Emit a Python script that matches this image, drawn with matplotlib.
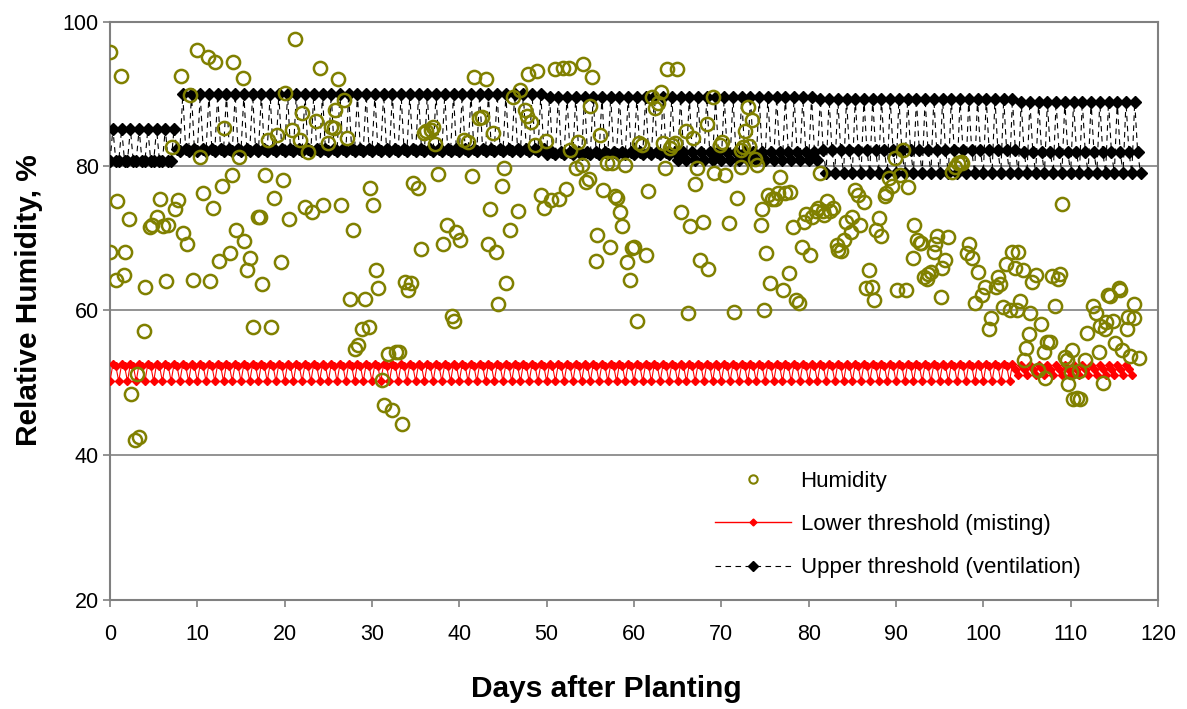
import numpy as np
import matplotlib.pyplot as plt
from matplotlib.lines import Line2D

plt.rcParams['font.family'] = ['Liberation Sans', 'DejaVu Sans']

# Humidity readings (day after planting, relative humidity %)
hum_day = [0.0, 0.0, 0.7, 0.8, 1.3, 1.6, 1.7, 2.2, 2.4, 2.9, 3.3, 3.1, 4.0, 3.9, 4.6, 4.8,
           5.4, 5.7, 6.1, 6.4, 6.6, 7.1, 7.4, 7.8, 8.1, 8.4, 8.8, 9.2, 9.5, 10.0, 10.3, 10.7,
           11.2, 11.5, 11.8, 12.0, 12.5, 12.8, 13.1, 13.7, 14.0, 14.1, 14.4, 14.8, 15.2, 15.3,
           15.7, 16.0, 16.4, 17.0, 17.2, 17.4, 17.8, 18.1, 18.4, 18.8, 19.1, 19.6, 19.8, 20.0,
           20.5, 20.8, 21.2, 21.8, 22.0, 22.3, 22.7, 23.1, 23.6, 24.1, 24.4, 25.0, 25.3, 25.7,
           25.8, 26.1, 26.5, 26.8, 27.1, 27.5, 27.8, 28.1, 28.4, 28.9, 29.2, 29.6, 29.8, 30.1,
           30.5, 30.7, 31.2, 31.4, 31.8, 32.3, 32.8, 33.1, 33.4, 33.8, 34.1, 34.5, 34.7, 35.3,
           35.6, 36.0, 36.2, 36.7, 37.0, 37.2, 37.6, 38.1, 38.6, 39.2, 39.4, 39.6, 40.1, 40.5,
           41.0, 41.4, 41.7, 42.2, 42.6, 43.0, 43.3, 43.5, 43.8, 44.2, 44.4, 44.9, 45.1, 45.4,
           45.8, 46.2, 46.7, 47.0, 47.5, 47.8, 47.9, 48.2, 48.7, 48.9, 49.4, 49.7, 49.9, 50.5,
           51.0, 51.4, 51.9, 52.2, 52.5, 52.7, 53.4, 53.6, 54.0, 54.2, 54.5, 54.8, 55.0, 55.2,
           55.6, 55.8, 56.1, 56.4, 56.9, 57.2, 57.5, 57.8, 58.1, 58.4, 58.6, 59.0, 59.2, 59.5,
           59.8, 60.0, 60.4, 60.6, 60.9, 61.4, 61.6, 62.1, 62.4, 62.8, 63.1, 63.3, 63.6, 63.8,
           64.1, 64.4, 64.7, 64.9, 65.4, 65.9, 66.2, 66.4, 66.7, 67.0, 67.2, 67.6, 67.9, 68.4,
           68.5, 69.0, 69.2, 69.9, 70.1, 70.4, 70.9, 71.5, 71.8, 72.2, 72.3, 72.5, 72.7, 73.0,
           73.2, 73.5, 73.8, 74.1, 74.5, 74.7, 74.9, 75.1, 75.4, 75.6, 75.8, 76.1, 76.5, 76.7,
           77.1, 77.3, 77.7, 77.9, 78.2, 78.5, 78.9, 79.2, 79.5, 79.7, 80.2, 80.4, 80.8, 81.1,
           81.3, 81.6, 81.8, 82.1, 82.5, 82.8, 83.2, 83.4, 83.7, 84.0, 84.3, 84.8, 85.0, 85.3,
           85.6, 85.9, 86.3, 86.6, 86.9, 87.3, 87.5, 87.7, 88.1, 88.3, 88.7, 88.9, 89.2, 89.5,
           89.9, 90.1, 90.5, 90.8, 91.2, 91.4, 91.9, 92.1, 92.4, 92.7, 92.9, 93.2, 93.5, 93.7,
           94.0, 94.3, 94.5, 94.7, 95.1, 95.3, 95.6, 96.0, 96.4, 96.8, 97.1, 97.4, 97.6, 98.1,
           98.4, 98.7, 99.1, 99.4, 99.9, 100.2, 100.6, 100.9, 101.4, 101.7, 101.9, 102.3, 102.6,
           103.0, 103.3, 103.6, 103.8, 104.0, 104.2, 104.5, 104.7, 104.9, 105.2, 105.4, 105.6,
           106.0, 106.3, 106.6, 106.9, 107.1, 107.3, 107.6, 107.9, 108.2, 108.5, 108.8, 109.0,
           109.3, 109.6, 109.7, 110.0, 110.1, 110.3, 110.7, 110.9, 111.1, 111.6, 111.9, 112.6,
           112.9, 113.2, 113.4, 113.7, 113.9, 114.1, 114.3, 114.5, 114.9, 115.1, 115.5, 115.7,
           115.9, 116.4, 116.6, 116.8, 117.2, 117.3, 117.8]
hum_rh = [95.8, 68.1, 64.2, 75.2, 92.4, 64.9, 68.1, 72.6, 48.5, 42.1, 42.5, 51.2, 63.3, 57.1, 71.5, 71.9,
          72.9, 75.4, 71.7, 64.1, 71.9, 82.6, 74.0, 75.3, 92.4, 70.7, 69.2, 89.8, 64.2, 96.1, 81.2, 76.3,
          95.1, 64.1, 74.2, 94.4, 66.9, 77.2, 85.3, 67.9, 78.8, 94.4, 71.2, 81.3, 92.2, 69.6,
          65.6, 67.3, 57.7, 73.0, 73.0, 63.7, 78.8, 83.6, 57.7, 75.6, 84.3, 66.7, 78.1, 90.1,
          72.6, 85.0, 97.6, 83.6, 87.3, 74.3, 81.9, 73.6, 86.2, 93.5, 74.6, 83.2, 85.4, 85.2,
          87.7, 92.0, 74.6, 89.1, 83.9, 61.6, 71.1, 54.7, 55.2, 57.5, 61.6, 57.7, 76.9, 74.6,
          65.6, 63.1, 50.4, 46.9, 54.0, 46.2, 54.2, 54.2, 44.3, 63.9, 62.9, 63.8, 77.6, 76.9,
          68.5, 84.6, 84.8, 85.0, 85.4, 83.0, 78.9, 69.2, 71.8, 59.3, 58.6, 70.8, 69.7, 83.6,
          83.3, 78.6, 92.3, 86.6, 86.8, 92.0, 69.2, 74.0, 84.6, 68.1, 60.9, 77.2, 79.7, 63.8,
          71.2, 89.5, 73.8, 90.5, 87.7, 86.9, 92.7, 86.1, 82.9, 93.1, 76.0, 74.2, 83.4, 75.3,
          93.4, 75.4, 93.6, 76.8, 93.5, 82.2, 79.7, 83.3, 80.2, 94.1, 77.8, 78.2, 88.3, 92.3,
          66.9, 70.5, 84.3, 76.7, 80.4, 68.8, 80.4, 75.8, 75.6, 73.6, 71.7, 80.1, 66.7, 64.2,
          68.7, 68.8, 58.6, 83.2, 82.9, 67.7, 76.5, 89.5, 88.0, 88.7, 90.3, 83.2, 79.7, 93.4,
          82.5, 82.9, 83.2, 93.4, 73.6, 84.8, 59.6, 71.7, 83.9, 77.5, 79.7, 67.0, 72.3, 85.8,
          65.7, 89.5, 79.1, 82.9, 83.3, 78.8, 72.1, 59.8, 75.6, 79.8, 82.2, 82.6, 84.8, 88.2,
          82.7, 86.4, 81.0, 80.1, 71.8, 74.0, 60.1, 67.9, 76.0, 63.8, 75.5, 75.4, 76.3, 78.5,
          62.9, 76.3, 65.2, 76.4, 71.5, 61.5, 61.1, 68.8, 72.3, 73.4, 67.7, 73.0, 73.8, 74.2,
          79.0, 73.8, 73.2, 75.2, 73.8, 74.2, 69.1, 68.4, 68.2, 69.7, 72.3, 70.8, 73.0, 76.7,
          76.0, 71.8, 75.0, 63.1, 65.6, 63.3, 61.5, 71.1, 72.8, 70.3, 75.8, 76.3, 78.3, 77.2,
          81.1, 62.9, 78.8, 82.2, 62.9, 77.1, 67.3, 71.8, 69.7, 69.3, 69.4, 64.6, 64.4, 65.0,
          65.3, 68.1, 69.2, 70.3, 61.9, 65.9, 67.0, 70.2, 79.2, 79.8, 80.4, 80.5, 80.4, 67.9,
          69.2, 67.3, 61.1, 65.3, 62.1, 63.3, 57.4, 58.9, 63.3, 64.6, 63.7, 60.5, 66.4,
          60.1, 68.1, 65.9, 60.1, 68.1, 61.3, 65.6, 53.1, 54.8, 56.7, 59.7, 63.9,
          64.9, 51.8, 58.1, 54.2, 50.7, 55.6, 55.6, 64.8, 60.6, 64.4, 65.1, 74.8,
          53.6, 53.1, 49.8, 51.5, 54.6, 47.7, 47.9, 51.6, 47.8, 53.1, 56.9, 60.6,
          59.6, 54.2, 57.8, 50.0, 57.4, 58.4, 62.2, 62.0, 58.5, 55.5, 63.1, 62.8,
          54.5, 57.4, 59.1, 53.7, 60.9, 58.9, 53.4]

# Threshold setpoints, logged three times a day (night, day, evening)
upper_start = [0, 7.67, 50, 65, 81.33, 104]
upper_end = [7.67, 50, 65, 81.33, 104, 118.33]
upper_night = [80.7, 82.1, 81.6, 80.8, 79.0, 79.0]
upper_day = [85.1, 89.9, 89.6, 89.5, 89.3, 88.9]
upper_eve = [80.7, 82.3, 81.9, 82.0, 82.2, 82.0]

lower_start = [0, 103.67]
lower_end = [103.67, 117.33]
lower_night = [50.2, 51.1]
lower_day = [52.6, 52.4]
lower_eve = [52.3, 51.9]


def expand(starts, ends, night, day, eve):
    days, vals = [], []
    for s, e, a, b, c in zip(starts, ends, night, day, eve):
        for k in range(int(round(s * 3)), int(round(e * 3))):
            days.append(k / 3)
            vals.append([a, b, c][k % 3])
    return days, vals


up_d, up_v = expand(upper_start, upper_end, upper_night, upper_day, upper_eve)
lo_d, lo_v = expand(lower_start, lower_end, lower_night, lower_day, lower_eve)

olive = '#808000'
grey = '#808080'

fig = plt.figure(figsize=(11.87, 7.09), dpi=100)
ax = fig.add_axes([110 / 1187, 1 - 599.5 / 709, (1158 - 110) / 1187, (599.5 - 21.5) / 709])

ax.plot(up_d, up_v, color='black', lw=0.8, ls=(0, (5, 4)), marker='D', ms=6.5, zorder=3)
ax.plot(lo_d, lo_v, color='red', lw=0.8, marker='D', ms=4, zorder=3)
ax.plot(hum_day, hum_rh, ls='none', marker='o', ms=9.5, mfc='none', mec=olive, mew=1.8, zorder=4)

ax.set_xlim(0, 120)
ax.set_ylim(20, 100)
ax.set_xticks(range(0, 121, 10))
ax.set_yticks(range(20, 101, 20))
ax.yaxis.grid(True, color=grey, lw=1.2)
ax.set_axisbelow(True)
for s in ax.spines.values():
    s.set_color(grey)
    s.set_linewidth(1.5)
ax.tick_params(direction='out', length=5, color=grey, width=1.2, labelsize=15.5, pad=3)
ax.tick_params(axis='x', pad=13)

ax.set_xlabel('Days after Planting', fontsize=21.5, fontweight='bold')
ax.xaxis.set_label_coords(0.474, -0.130)
ax.set_ylabel('Relative Humidity, %', fontsize=21.5, fontweight='bold')
ax.yaxis.set_label_coords(-0.064, 0.518)

# legend with smaller markers like the original
h1 = Line2D([], [], ls='none', marker='o', ms=6, mfc='none', mec=olive, mew=1.5)
h2 = Line2D([], [], color='red', lw=1, marker='D', ms=3.5)
h3 = Line2D([], [], color='black', lw=0.8, ls=(0, (5, 4)), marker='D', ms=5)
fig.legend([h1, h2, h3],
           ['Humidity', 'Lower threshold (misting)', 'Upper threshold (ventilation)'],
           loc='upper left', bbox_to_anchor=(715 / 1187, 1 - 471 / 709),
           frameon=False, fontsize=16, handlelength=3.4, handletextpad=0.45,
           labelspacing=1.0, borderpad=0, borderaxespad=0)

fig.savefig('out.png', dpi=100)
